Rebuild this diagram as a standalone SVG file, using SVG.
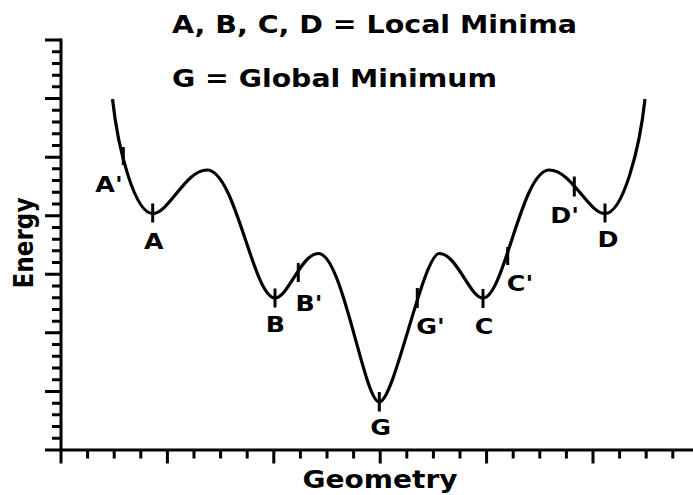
<svg xmlns="http://www.w3.org/2000/svg" width="693" height="495" viewBox="0 0 693 495">
<style>
text{font-family:"DejaVu Sans","Liberation Sans",sans-serif;font-weight:bold;fill:#000}
.ax{fill:none;stroke:#000;stroke-width:3;stroke-linecap:butt}
.curve{fill:none;stroke:#000;stroke-width:3.2;stroke-linejoin:round}
.lbl{font-size:22px;text-anchor:middle}
</style>
<rect width="693" height="495" fill="#fff"/>
<g id="title">
<text x="172" y="33" font-size="25" textLength="405" lengthAdjust="spacingAndGlyphs">A, B, C, D = Local Minima</text>
<text x="172" y="87" font-size="25" textLength="325" lengthAdjust="spacingAndGlyphs">G = Global Minimum</text>
</g>
<g id="axes">
<path class="ax" d="M61,38.5V463.5M45,450H693"/>
<path class="ax" d="M45,40H61M45,98.57H61M45,157.14H61M45,215.71H61M45,274.29H61M45,332.86H61M45,391.43H61"/>
<path class="ax" d="M52,51.71H61M52,63.43H61M52,75.14H61M52,86.86H61M52,110.29H61M52,122H61M52,133.71H61M52,145.43H61M52,168.86H61M52,180.57H61M52,192.29H61M52,204H61M52,227.43H61M52,239.14H61M52,250.86H61M52,262.57H61M52,286H61M52,297.71H61M52,309.43H61M52,321.14H61M52,344.57H61M52,356.29H61M52,368H61M52,379.71H61M52,403.14H61M52,414.86H61M52,426.57H61M52,438.29H61"/>
<path class="ax" d="M167.4,450V463.5M273.8,450V463.5M380.2,450V463.5M486.6,450V463.5M593,450V463.5"/>
<path class="ax" d="M87.6,450V458.5M114.2,450V458.5M140.8,450V458.5M194,450V458.5M220.6,450V458.5M247.2,450V458.5M300.4,450V458.5M327,450V458.5M353.6,450V458.5M406.8,450V458.5M433.4,450V458.5M460,450V458.5M513.2,450V458.5M539.8,450V458.5M566.4,450V458.5M619.6,450V458.5M646.2,450V458.5M672.8,450V458.5"/>
<text x="380" y="488" font-size="24" text-anchor="middle" textLength="155" lengthAdjust="spacingAndGlyphs">Geometry</text>
<text transform="translate(33,243) rotate(-90) scale(1,1.15)" font-size="23.5" text-anchor="middle" textLength="91" lengthAdjust="spacingAndGlyphs">Energy</text>
</g>
<g id="curve">
<path class="curve" d="M112.5,99 C118,150 135,213.5 152.7,213.5 C169,213.5 185.3,170 207,170 C235.6,170 253.2,298 275,298 C288,298 301.1,253.5 318.5,253.5 C342.8,253.5 364.1,402 379.3,402 C394.3,402 423.1,253.5 439.3,253.5 C456.8,253.5 469.9,298 483,298 C504.2,298 521.5,170 549.3,170 C571.6,170 588.3,213.5 605,213.5 C622.7,213.5 639.5,150 645,99"/>
</g>
<g id="markers">
<path class="ax" d="M123.3,147V165M152.7,203.5V222.5M275,288.5V307.5M298.3,263V282M379.3,392V411.5M417.3,288V308M483,289V308M507.7,247V265M574.3,176.5V196.5M605,203.5V222.5"/>
</g>
<g id="node-A"><text class="lbl" transform="translate(153.7,248.5) scale(1.15,1)">A</text></g>
<g id="node-A-prime"><text class="lbl" transform="translate(109,192) scale(1.15,1)">A'</text></g>
<g id="node-B"><text class="lbl" transform="translate(275.3,332) scale(1.15,1)">B</text></g>
<g id="node-B-prime"><text class="lbl" transform="translate(309,310.5) scale(1.15,1)">B'</text></g>
<g id="node-G"><text class="lbl" transform="translate(380.5,435) scale(1.15,1)">G</text></g>
<g id="node-G-prime"><text class="lbl" transform="translate(430.5,333.5) scale(1.15,1)">G'</text></g>
<g id="node-C"><text class="lbl" transform="translate(484,333.5) scale(1.15,1)">C</text></g>
<g id="node-C-prime"><text class="lbl" transform="translate(520,290.5) scale(1.15,1)">C'</text></g>
<g id="node-D-prime"><text class="lbl" transform="translate(564.5,223) scale(1.15,1)">D'</text></g>
<g id="node-D"><text class="lbl" transform="translate(608,247) scale(1.15,1)">D</text></g>
</svg>
